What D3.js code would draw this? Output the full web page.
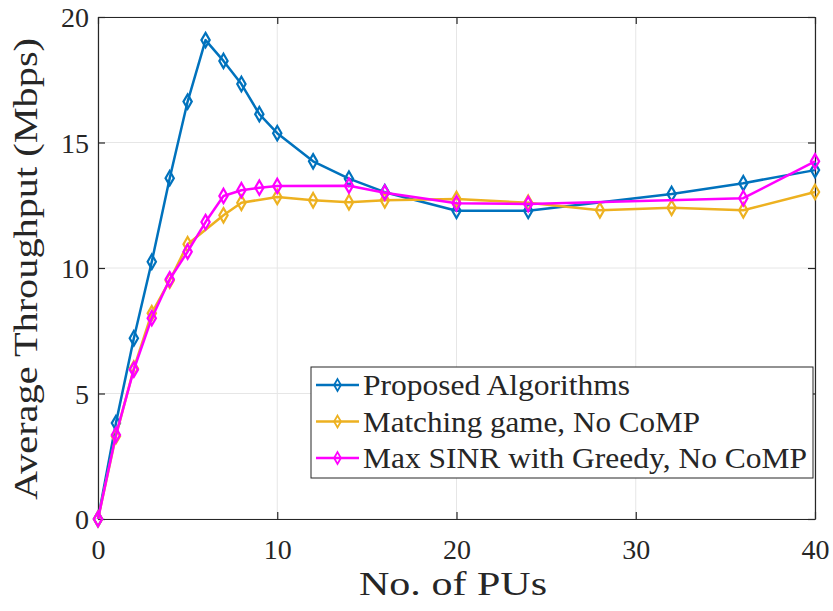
<!DOCTYPE html>
<html>
<head>
<meta charset="utf-8">
<script src="https://cdn.jsdelivr.net/npm/d3@7"></script>
<style>
  body { margin: 0; background: #fff; }
  svg { display: block; }
  text { font-family: "Liberation Serif", "DejaVu Serif", serif; fill: #262626; }
</style>
</head>
<body>
<svg id="chart" width="833" height="611"></svg>
<script>
// Average throughput vs. number of PUs for three schemes
const proposedX = [0, 1, 2, 3, 4, 5, 6, 7, 8, 9, 10, 12, 14, 16, 20, 24, 32, 36, 40];
const proposedY = [0, 3.82, 7.2, 10.25, 13.58, 16.63, 19.08, 18.25, 17.33, 16.13, 15.37, 14.25, 13.56, 13.02, 12.28, 12.28, 12.95, 13.38, 13.9];

const matchingX = [0, 1, 2, 3, 4, 5, 7, 8, 10, 12, 14, 16, 20, 24, 28, 32, 36, 40];
const matchingY = [0, 3.3, 6.0, 8.2, 9.5, 10.95, 12.1, 12.6, 12.83, 12.7, 12.62, 12.7, 12.75, 12.6, 12.3, 12.4, 12.3, 13.03];

const greedyX = [0, 1, 2, 3, 4, 5, 6, 7, 8, 9, 10, 14, 16, 20, 24, 36, 40];
const greedyY = [0, 3.35, 5.95, 8.0, 9.55, 10.65, 11.83, 12.87, 13.1, 13.2, 13.27, 13.28, 13.0, 12.58, 12.55, 12.78, 14.25];

const seriesNames = ["Proposed Algorithms", "Matching game, No CoMP", "Max SINR with Greedy, No CoMP"];
const seriesColors = ["#0072BD", "#EDB120", "#FF00FF"];

const xTicks = [0, 10, 20, 30, 40];
const yTicks = [0, 5, 10, 15, 20];

const series = [
  { name: seriesNames[0], color: seriesColors[0], pts: proposedX.map((x, i) => [x, proposedY[i]]) },
  { name: seriesNames[1], color: seriesColors[1], pts: matchingX.map((x, i) => [x, matchingY[i]]) },
  { name: seriesNames[2], color: seriesColors[2], pts: greedyX.map((x, i) => [x, greedyY[i]]) }
];

const svg = d3.select("#chart");
const L = 98, R = 815, T = 17, B = 519;
const x = d3.scaleLinear().domain([0, 40]).range([L, R]);
const y = d3.scaleLinear().domain([0, 20]).range([B, T]);

const axisColor = "#262626";
const tickLen = 7;
const serif = '"Liberation Serif", "DejaVu Serif", serif';

// grid
svg.append("g").selectAll("line").data(xTicks).join("line")
  .attr("x1", d => x(d)).attr("x2", d => x(d)).attr("y1", T).attr("y2", B)
  .attr("stroke", "#e6e6e6").attr("stroke-width", 1);
svg.append("g").selectAll("line").data(yTicks).join("line")
  .attr("x1", L).attr("x2", R).attr("y1", d => y(d)).attr("y2", d => y(d))
  .attr("stroke", "#e6e6e6").attr("stroke-width", 1);

// axes with inward ticks
const axB = svg.append("g").attr("transform", `translate(0,${B})`)
  .call(d3.axisBottom(x).tickValues(xTicks).tickSizeInner(-tickLen).tickSizeOuter(0).tickPadding(20));
const axL = svg.append("g").attr("transform", `translate(${L},0)`)
  .call(d3.axisLeft(y).tickValues(yTicks).tickSizeInner(-tickLen).tickSizeOuter(0).tickPadding(9));
const axT = svg.append("g").attr("transform", `translate(0,${T})`)
  .call(d3.axisTop(x).tickValues(xTicks).tickSizeInner(-tickLen).tickSizeOuter(0).tickFormat(""));
const axR = svg.append("g").attr("transform", `translate(${R},0)`)
  .call(d3.axisRight(y).tickValues(yTicks).tickSizeInner(-tickLen).tickSizeOuter(0).tickFormat(""));

[axB, axL, axT, axR].forEach(g => {
  g.select(".domain").attr("stroke", axisColor).attr("stroke-width", 1.2);
  g.selectAll(".tick line").attr("stroke", axisColor).attr("stroke-width", 1.2);
  g.selectAll(".tick text").attr("font-size", 28).attr("fill", axisColor)
    .style("font-family", serif);
});
axB.selectAll(".tick text").attr("dy", "0.71em");
axL.selectAll(".tick text").attr("dy", "0.35em");

// lines and markers
const line = d3.line().x(d => x(d[0])).y(d => y(d[1]));
const diamond = d3.symbol().type(d3.symbolDiamond).size(60);

series.forEach(s => {
  svg.append("path").datum(s.pts).attr("d", line)
    .attr("fill", "none").attr("stroke", s.color).attr("stroke-width", 2.5)
    .attr("stroke-linejoin", "round");
  svg.append("g").selectAll("path").data(s.pts).join("path")
    .attr("d", diamond)
    .attr("transform", d => `translate(${x(d[0])},${y(d[1])})`)
    .attr("fill", "none").attr("stroke", s.color).attr("stroke-width", 2.2);
});

// axis titles
svg.append("text").attr("x", 359).attr("y", 595)
  .attr("font-size", 34).attr("textLength", 188).attr("lengthAdjust", "spacingAndGlyphs")
  .text("No. of PUs");
svg.append("text").attr("transform", `translate(37,500) rotate(-90)`)
  .attr("font-size", 34).attr("textLength", 462).attr("lengthAdjust", "spacingAndGlyphs")
  .text("Average Throughput (Mbps)");

// legend
const legendWidths = [267, 337, 444];
const lg = svg.append("g");
lg.append("rect").attr("x", 311).attr("y", 367).attr("width", 502).attr("height", 111)
  .attr("fill", "#fff").attr("stroke", axisColor).attr("stroke-width", 1);
series.forEach((s, i) => {
  const cy = 385 + i * 36.5;
  lg.append("line").attr("x1", 316).attr("x2", 359).attr("y1", cy).attr("y2", cy)
    .attr("stroke", s.color).attr("stroke-width", 2.4);
  lg.append("path").attr("d", d3.symbol().type(d3.symbolDiamond).size(40))
    .attr("transform", `translate(337.5,${cy})`)
    .attr("fill", "none").attr("stroke", s.color).attr("stroke-width", 1.8);
  lg.append("text").attr("x", 363).attr("y", cy + 10)
    .attr("font-size", 29).attr("textLength", legendWidths[i]).attr("lengthAdjust", "spacingAndGlyphs")
    .text(s.name);
});
</script>
</body>
</html>
